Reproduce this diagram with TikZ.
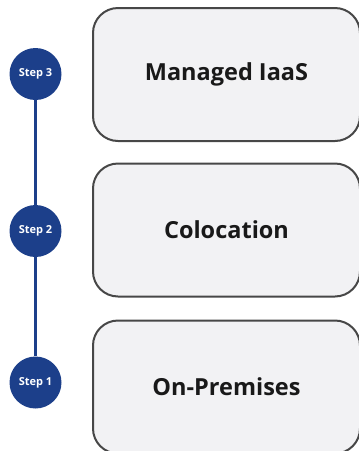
\documentclass[tikz,border=0pt]{standalone}
\usepackage{fontspec}
\setmainfont{Open Sans}
\definecolor{stepblue}{HTML}{1C3F8A}
\definecolor{boxfill}{HTML}{F2F2F4}
\definecolor{boxline}{HTML}{474747}
\begin{document}
\begin{tikzpicture}[x=1pt,y=-1pt,
  stagebox/.style={draw=boxline,line width=2pt,fill=boxfill,rounded corners=25pt,
    minimum width=267pt,minimum height=133pt,font=\fontsize{23.5}{26}\selectfont\bfseries,text=black!90},
  stepdot/.style={circle,fill=stepblue,minimum size=52pt,inner sep=0pt,
    text=white,font=\fontsize{11}{13}\selectfont\bfseries},
  stepline/.style={draw=stepblue,line width=3pt}]
\useasboundingbox (0,0) rectangle (359,451);
\clip (0,0) rectangle (359,451);
\node[stagebox] (b3) at (226.5,74.5) {Managed IaaS};
\node[stagebox] (b2) at (226.5,230) {Colocation};
\node[stagebox] (b1) at (226.5,387) {On-Premises};
\node[stepdot] (s3) at (35.5,74) {Step 3};
\node[stepdot] (s2) at (35.5,231) {Step 2};
\node[stepdot] (s1) at (35.5,382.5) {Step 1};
\draw[stepline] (s3) -- (s2);
\draw[stepline] (s2) -- (s1);
\end{tikzpicture}
\end{document}
